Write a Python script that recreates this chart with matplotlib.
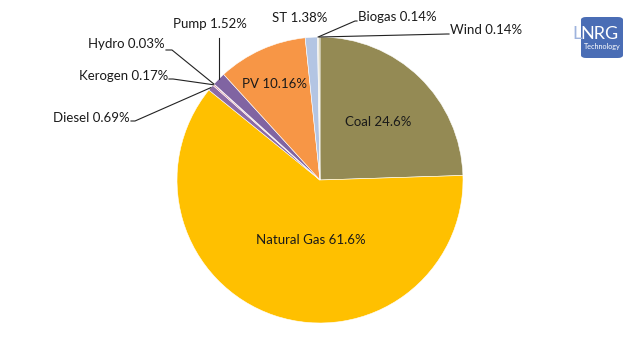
import numpy as np
import matplotlib
matplotlib.use("Agg")
import matplotlib.pyplot as plt
from matplotlib.patches import FancyBboxPatch

plt.rcParams['font.family'] = ['Lato', 'DejaVu Sans']

# energy mix, clockwise from 12 o'clock
labels = ['Coal', 'Natural Gas', 'Diesel', 'Kerogen', 'Hydro', 'Pump', 'PV', 'ST', 'Biogas', 'Wind']
shares = [24.6, 61.6, 0.69, 0.17, 0.03, 1.52, 10.16, 1.38, 0.14, 0.14]
pct_text = ['24.6%', '61.6%', '0.69%', '0.17%', '0.03%', '1.52%', '10.16%', '1.38%', '0.14%', '0.14%']
colors = ['#948A54', '#FFC000', '#8C6AA6', '#D98C9A', '#E3A07A', '#8064A2',
          '#F79646', '#B3C5E3', '#D9D2B8', '#C4BD97']

W, H = 640, 361
cx, cy, R = 320, 180, 143

fig = plt.figure(figsize=(6.4, 3.61), dpi=100)
ax = fig.add_axes([(cx - R) / W, (H - cy - R) / H, 2 * R / W, 2 * R / H])

wedges, _ = ax.pie(shares, colors=colors, startangle=90, counterclock=False,
                   radius=1, wedgeprops=dict(edgecolor='white', linewidth=0.4))
ax.set_xlim(-1, 1)
ax.set_ylim(-1, 1)
ax.axis('off')


def px(x, y):
    # pixel position (from top-left) -> data coords of pie axes
    return (x - cx) / R, (cy - y) / R


def edge(i, r=1.0):
    w = wedges[i]
    a = np.deg2rad((w.theta1 + w.theta2) / 2)
    return r * np.cos(a), r * np.sin(a)


tc = '#1a1a1a'
fs = 9.5

# labels inside the pie
for i, (x, y) in {0: (378, 122), 1: (311, 240), 6: (275, 84)}.items():
    ax.text(*px(x, y), f'{labels[i]} {pct_text[i]}', ha='center', va='center',
            fontsize=fs, color=tc)

# labels outside with leader lines: text anchor, elbow, ha
outside = {
    2: ((130, 118), (135, 121), 'right'),
    3: ((168, 76), (173, 79), 'right'),
    4: ((165, 44), (172, 50), 'right'),
    5: ((210, 24), None, 'center'),
    7: ((300, 18), None, 'center'),
    8: ((358, 17), (355, 21), 'left'),
    9: ((450, 30), (447, 34), 'left'),
}
for i, ((tx, ty), elbow, ha) in outside.items():
    ax.text(*px(tx, ty), f'{labels[i]} {pct_text[i]}', ha=ha, va='center',
            fontsize=fs, color=tc)
    ex, ey = edge(i, 1.0)
    if i == 5:
        # vertical leader up to the label
        ax.plot([ex, ex], [ey, px(0, 38)[1]], color='#222222', lw=0.8, clip_on=False)
        continue
    if elbow is None:
        continue
    bx, by = px(*elbow)
    pts = [(ex, ey), (bx, by)]
    if ha == 'right':
        pts.append(px(tx + 1, elbow[1]))
    elif ha == 'left':
        pts.append(px(tx - 1, elbow[1]))
    xs, ys = zip(*pts)
    ax.plot(xs, ys, color='#222222', lw=0.8, clip_on=False)

# logo
fig.patches.append(FancyBboxPatch((581 / W, 1 - 58 / H), 42 / W, 41 / H,
                                  boxstyle='round,pad=0,rounding_size=0.008',
                                  transform=fig.transFigure, facecolor='#4A6DB5',
                                  edgecolor='none'))
fig.text(572 / W, 1 - 34 / H, 'L', color='#9FB4DD', fontsize=13, va='center', ha='left')
fig.text(580 / W, 1 - 34 / H, 'NRG', color='white', fontsize=13, va='center', ha='left')
fig.text(584 / W, 1 - 46 / H, 'Technology', color='white', fontsize=5.2, va='center', ha='left')

fig.savefig('out.png', dpi=100, facecolor='white')
